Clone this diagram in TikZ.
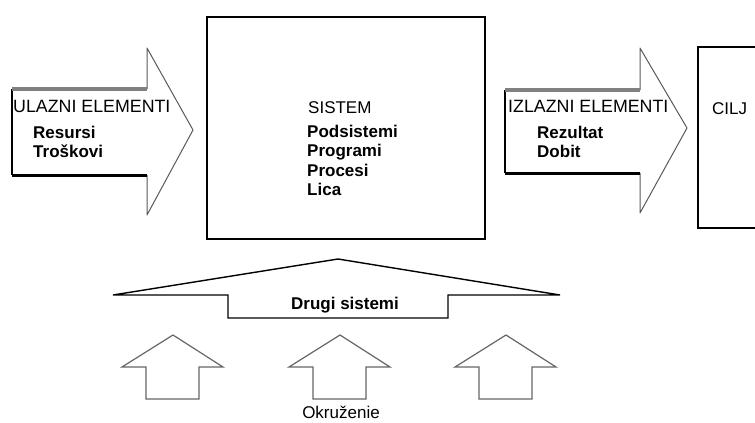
\documentclass[tikz,border=0pt]{standalone}
\usepackage{fontspec}
\setmainfont{Liberation Sans}

\begin{document}
\begin{tikzpicture}[
		x = 1pt,
		y = -1pt,
		txt/.style = {
			anchor = base west,
			inner sep = 0,
			font = \fontsize{17}{20}\selectfont
		},
		txtb/.style = {
			txt,
			font = \fontsize{17}{20}\selectfont\bfseries
		},
		txtw/.style = {
			txt,
			font = \fontsize{17.8}{20}\selectfont
		},
		shadetop/.style = {
			draw = black!50,
			line width = 3.5pt
		},
		shadebot/.style = {
			draw = black,
			line width = 3pt
		},
		head/.style = {
			draw = black!65,
			line width = 1pt,
			line join = round
		},
		okr/.style = {
			draw = black!60,
			line width = 1.2pt
		}
	]
	\useasboundingbox (0, 0) rectangle (755, 423);

	% ulazni elementi
	\coordinate (ua) at (12, 89);
	\coordinate (ub) at (147, 89);
	\coordinate (uc) at (147, 48);
	\coordinate (ud) at (193, 130);
	\coordinate (ue) at (147, 215);
	\coordinate (uf) at (147, 175);
	\coordinate (ug) at (12, 175);

	\draw [head] (ub) -- (uc) -- (ud) -- (ue) -- (uf);
	\draw [line width = 1.5pt] (ua) -- (ug);
	\draw [shadetop] (ua) -- (ub);
	\draw [shadebot] (ug) -- (uf);

	\node [txtw] (ulaz) at (13, 112) {ULAZNI ELEMENTI};
	\node [txtb] (resursi) at (33, 138) {Resursi};
	\node [txtb] (troskovi) at (33, 157) {Troškovi};

	% sistem
	\draw [line width = 2pt] (207, 17) rectangle (485, 239);

	\node [txt] (sistem) at (308, 113) {SISTEM};
	\node [txtb] (podsis) at (307, 137) {Podsistemi};
	\node [txtb] (progr) at (307, 156.5) {Programi};
	\node [txtb] (proc) at (307, 176) {Procesi};
	\node [txtb] (lica) at (307, 195.5) {Lica};

	% izlazni elementi
	\coordinate (ia) at (505, 90);
	\coordinate (ib) at (640, 90);
	\coordinate (ic) at (640, 48);
	\coordinate (id) at (687, 128);
	\coordinate (ie) at (640, 213);
	\coordinate (if) at (640, 173);
	\coordinate (ig) at (505, 173);

	\draw [head] (ib) -- (ic) -- (id) -- (ie) -- (if);
	\draw [line width = 1.5pt] (ia) -- (ig);
	\draw [shadetop] (ia) -- (ib);
	\draw [shadebot] (ig) -- (if);

	\node [txtw] (izlaz) at (508, 112) {IZLAZNI ELEMENTI};
	\node [txtb] (rezultat) at (537, 138) {Rezultat};
	\node [txtb] (dobit) at (537, 157) {Dobit};

	% cilj
	\draw [line width = 2pt] (760, 47) -- (698, 47) -- (698, 228) -- (760, 228);
	\node [txt] (cilj) at (712, 114) {CILJ};

	% drugi sistemi
	\draw [line width = 1.4pt, line join = miter]
		(338, 259) -- (113, 295) -- (228, 295) -- (228, 318)
		-- (448, 318) -- (448, 295) -- (560, 295) -- cycle;
	\node [txtb, anchor = base] (drugi) at (345, 309) {Drugi sistemi};

	% okruzenje
	\draw [okr] (173, 335) -- (122, 367) -- (146, 367) -- (146, 399)
		-- (199, 399) -- (199, 367) -- (223, 367) -- cycle;
	\draw [okr] (340, 335) -- (289, 367) -- (313, 367) -- (313, 399)
		-- (366, 399) -- (366, 367) -- (390, 367) -- cycle;
	\draw [okr] (506, 335) -- (455, 367) -- (479, 367) -- (479, 399)
		-- (532, 399) -- (532, 367) -- (556, 367) -- cycle;

	\node [txt, anchor = base] (okruzenje) at (341, 418) {Okruženie};
\end{tikzpicture}
\end{document}
